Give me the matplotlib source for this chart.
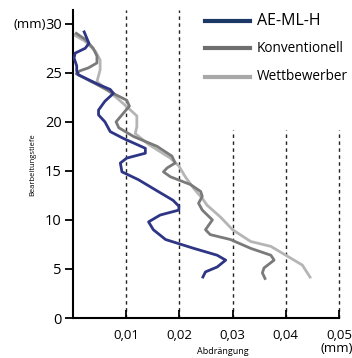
import matplotlib.pyplot as plt
from matplotlib.lines import Line2D

plt.rcParams['font.family'] = ['Open Sans', 'DejaVu Sans']

# AE-ML-H
ae_x = [0.0020, 0.0030, 0.0023, 0.0004, 0.0002, 0.0007, 0.0007, 0.0010, 0.0048, 0.0070,
        0.0076, 0.0060, 0.0048, 0.0048, 0.0060, 0.0070, 0.0095, 0.0136, 0.0136, 0.0101,
        0.0089, 0.0092, 0.0123, 0.0160, 0.0188, 0.0199, 0.0199, 0.0164, 0.0142, 0.0151,
        0.0174, 0.0227, 0.0271, 0.0287, 0.0271, 0.0249, 0.0243]
ae_y = [29.3, 28.0, 27.5, 27.0, 26.5, 25.7, 25.2, 24.8, 23.8, 23.3,
        22.9, 22.1, 21.2, 20.7, 20.0, 19.0, 18.3, 17.3, 16.8, 16.3,
        15.8, 14.9, 14.1, 12.9, 12.0, 11.4, 11.0, 10.5, 9.8, 9.0,
        8.0, 7.1, 6.4, 5.9, 5.2, 4.7, 4.05]

# Konventionell
ko_x = [0.0004, 0.0023, 0.0038, 0.0045, 0.0045, 0.0029, 0.0013, 0.0006, 0.0045, 0.0079,
        0.0101, 0.0106, 0.0095, 0.0081, 0.0086, 0.0114, 0.0158, 0.0186, 0.0192, 0.0177,
        0.0170, 0.0183, 0.0221, 0.0240, 0.0243, 0.0236, 0.0243, 0.0262, 0.0249, 0.0258,
        0.0296, 0.0334, 0.0372, 0.0378, 0.0359, 0.0356, 0.0362]
ko_y = [29.1, 28.4, 27.5, 26.7, 26.0, 25.5, 25.2, 24.9, 23.8, 22.8,
        22.2, 21.6, 20.9, 20.0, 19.4, 18.5, 17.5, 16.5, 15.8, 15.3,
        14.9, 14.4, 13.6, 12.9, 12.4, 11.7, 11.0, 10.0, 9.0, 8.5,
        8.0, 7.1, 6.4, 5.9, 5.1, 4.6, 3.9]

# Wettbewerber
wb_x = [0.0001, 0.0023, 0.0042, 0.0051, 0.0051, 0.0045, 0.0079, 0.0104, 0.0120, 0.0120,
        0.0117, 0.0142, 0.0183, 0.0199, 0.0211, 0.0227, 0.0243, 0.0252, 0.0277, 0.0300,
        0.0334, 0.0372, 0.0403, 0.0431, 0.0447]
wb_y = [28.9, 28.2, 27.2, 26.3, 25.3, 24.1, 22.6, 21.4, 20.6, 19.5,
        18.8, 17.7, 16.3, 15.5, 14.4, 13.2, 12.2, 11.5, 10.3, 9.0,
        7.8, 7.3, 6.3, 5.4, 4.05]

xticks = [0.01, 0.02, 0.03, 0.04, 0.05]
xlabels = ['0,01', '0,02', '0,03', '0,04', '0,05']
yticks = [0, 5, 10, 15, 20, 25, 30]

fig = plt.figure(figsize=(3.52, 3.58), dpi=100)
ax = fig.add_axes([73/352, 1-318/358, 266/352, 308/358])
ax.set_xlim(0, 0.05)
ax.set_ylim(0, 31.4)

for xv in xticks:
    top = 31.4 if xv < 0.025 else 19.2
    ax.plot([xv, xv], [0, top], color='#222222', lw=1, ls=(0, (2.5, 2.5)),
            zorder=1, clip_on=False)

style = dict(lw=2.0, solid_capstyle='butt', solid_joinstyle='round')
ax.plot(wb_x, wb_y, color='#b5b5b5', zorder=2, **style)
ax.plot(ko_x, ko_y, color='#7a7a7a', zorder=3, **style)
ax.plot(ae_x, ae_y, color='#2e3585', zorder=4, **style)

ax.spines['top'].set_visible(False)
ax.spines['right'].set_visible(False)
ax.spines['left'].set_linewidth(1.5)
ax.spines['bottom'].set_linewidth(1.5)
ax.set_xticks(xticks)
ax.set_xticklabels(xlabels)
ax.set_yticks(yticks)
ax.tick_params(axis='y', direction='out', length=6, width=1.3, labelsize=10.5, pad=2)
ax.tick_params(axis='x', direction='in', length=6, width=1.3, labelsize=9.5, pad=8)

fig.text(13/352, 1-24/358, '(mm)', fontsize=9.5, va='center', ha='left')
fig.text(33/352, 1-165/358, 'Bearbeitungstiefe', fontsize=5.5, rotation=90, va='center', ha='center')
fig.text(223/352, 1-352/358, 'Abdrängung', fontsize=6.5, va='center', ha='center')
fig.text(337/352, 1-349/358, '(mm)', fontsize=9.5, va='center', ha='center')

# legend
leg = [('AE-ML-H', '#1c3866', 11.5, 21), ('Konventionell', '#6e6e6e', 9.8, 48),
       ('Wettbewerber', '#a8a8a8', 9.8, 77)]
for name, col, fs, py in leg:
    fig.add_artist(Line2D([205/352, 250/352], [1-py/358, 1-py/358], color=col, lw=3))
    fig.text(257/352, 1-py/358, name, fontsize=fs, va='center', ha='left')

fig.savefig('out.png', dpi=100)
